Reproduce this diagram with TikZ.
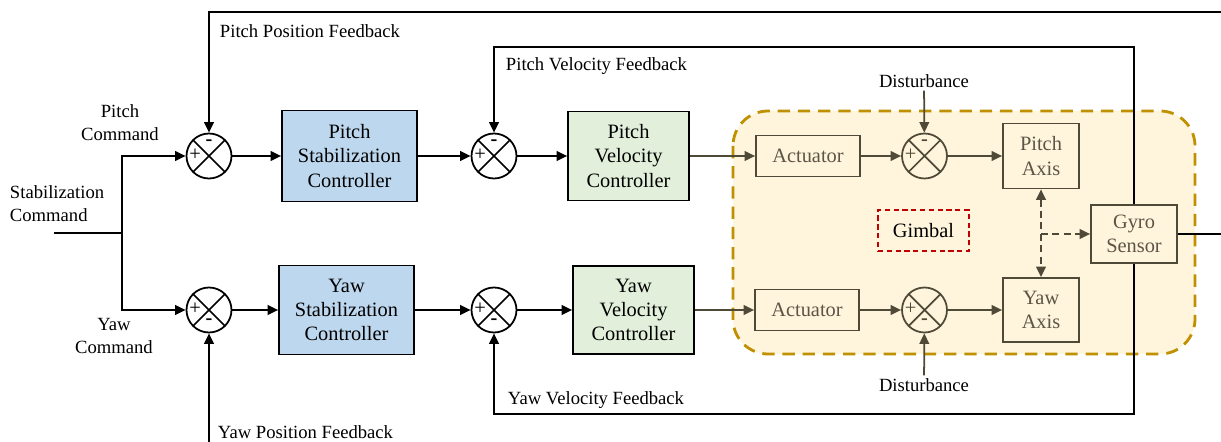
\documentclass[tikz,border=0pt]{standalone}
\usepackage{fontspec}
\setmainfont{Liberation Serif}
\usetikzlibrary{arrows.meta}

\definecolor{ctrlblue}{HTML}{BDD7EE}
\definecolor{ctrlgreen}{HTML}{E2EFDA}
\definecolor{gimbalfill}{HTML}{FFF5DD}
\definecolor{gimbaledge}{HTML}{BF9000}
\definecolor{plant}{HTML}{4F4937}
\definecolor{planttext}{HTML}{5C5546}
\definecolor{gimbalred}{HTML}{C00000}

\newcommand{\blockfont}{\fontsize{11.6pt}{13.8pt}\selectfont}
\newcommand{\labelfont}{\fontsize{10.6pt}{13pt}\selectfont}

\tikzset{
    ctrl/.style={draw, line width=1pt, align=center, font=\blockfont, inner sep=0pt},
    plantbox/.style={draw=plant, fill=gimbalfill, text=planttext, line width=1pt, align=center, font=\blockfont, inner sep=0pt},
    sum/.style={circle, draw=#1, line width=1pt, minimum size=0.9cm, inner sep=0pt,
        path picture={\draw[#1, line width=1pt] (path picture bounding box.north west) -- (path picture bounding box.south east)
            (path picture bounding box.north east) -- (path picture bounding box.south west);}},
    sum/.default=black,
    sign/.style={font=\blockfont, inner sep=0pt},
    lbl/.style={font=\labelfont, inner sep=1.5pt},
    arr/.style={->, line width=1pt},
    plantarr/.style={->, draw=plant, line width=1pt},
    dasharr/.style={draw=plant, line width=1pt, dash pattern=on 4pt off 2.5pt},
    gimbalbox/.style={draw=gimbaledge, fill=gimbalfill, line width=1.6pt, dash pattern=on 7pt off 4.5pt, rounded corners=0.7cm}
}

\begin{document}
\begin{tikzpicture}[x=0.02cm, y=-0.02cm, >={Triangle[length=6pt,width=5.5pt]}]
    \useasboundingbox (0,0) rectangle (1221,442);

    % gimbal area
    \draw[gimbalbox] (733,111) rectangle (1195,354);

    % controllers
    \node[ctrl, fill=ctrlblue, minimum width=2.7cm, minimum height=1.82cm] (psc) at (349.5,156) {Pitch\\Stabilization\\Controller};
    \node[ctrl, fill=ctrlblue, minimum width=2.7cm, minimum height=1.78cm] (ysc) at (346.5,310) {Yaw\\Stabilization\\Controller};
    \node[ctrl, fill=ctrlgreen, minimum width=2.42cm, minimum height=1.78cm] (pvc) at (628.5,156) {Pitch\\Velocity\\Controller};
    \node[ctrl, fill=ctrlgreen, minimum width=2.42cm, minimum height=1.76cm] (yvc) at (633.5,310) {Yaw\\Velocity\\Controller};

    % summing points
    \node[sum] (s1) at (209,156) {};
    \node[sum] (s2) at (209,310) {};
    \node[sum] (s3) at (494,156) {};
    \node[sum] (s4) at (494,310) {};
    \node[sum=plant] (s5) at (924.5,156) {};
    \node[sum=plant] (s6) at (924.5,310) {};
    \foreach \s/\c in {s1/black,s3/black,s5/plant} {
        \node[sign, text=\c] (\s-plus) at ([shift={(-14,-1)}]\s) {+};
        \node[sign, text=\c] (\s-minus) at ([shift={(0,-13)}]\s) {\bfseries -};
    }
    \foreach \s/\c in {s2/black,s4/black,s6/plant} {
        \node[sign, text=\c] (\s-plus) at ([shift={(-14,-1)}]\s) {+};
        \node[sign, text=\c] (\s-minus) at ([shift={(0,12)}]\s) {\bfseries -};
    }

    % gimbal blocks
    \node[plantbox, minimum width=2.08cm, minimum height=0.82cm] (act1) at (808,156) {Actuator};
    \node[plantbox, minimum width=2.08cm, minimum height=0.82cm] (act2) at (807,310) {Actuator};
    \node[plantbox, minimum width=1.52cm, minimum height=1.3cm] (pax) at (1041,156) {Pitch\\Axis};
    \node[plantbox, minimum width=1.52cm, minimum height=1.28cm] (yax) at (1041,310) {Yaw\\Axis};
    \node[plantbox, minimum width=1.72cm, minimum height=1.16cm] (gyro) at (1134,234) {Gyro\\Sensor};
    \node[draw=gimbalred, line width=1pt, dash pattern=on 3pt off 2pt, font=\blockfont, minimum width=1.82cm, minimum height=0.82cm] (gml) at (923.5,230.5) {Gimbal};

    % labels
    \node[lbl, align=left, anchor=west] (scmd) at (7,204) {Stabilization\\Command};
    \node[lbl, align=center] (pcmd) at (120,123) {Pitch\\Command};
    \node[lbl, align=center] (ycmd) at (114,336) {Yaw\\Command};
    \node[lbl, anchor=west] (ppl) at (217,31) {Pitch Position Feedback};
    \node[lbl, anchor=west] (ypl) at (215,432) {Yaw Position Feedback};
    \node[lbl, anchor=west] (pvl) at (503,66) {Pitch Velocity Feedback};
    \node[lbl, anchor=west] (yvl) at (505,400) {Yaw Velocity Feedback};
    \node[lbl] (d1) at (924,81) {Disturbance};
    \node[lbl] (d2) at (924,385) {Disturbance};

    % command split
    \coordinate (cmd) at (54,233);
    \coordinate (split) at (122,233);
    \draw[line width=1pt] (cmd) -- (split);
    \draw[arr] (split) |- (s1);
    \draw[arr] (split) |- (s2);

    % forward path
    \draw[arr] (s1) -- (psc);
    \draw[arr] (s2) -- (ysc);
    \draw[arr] (psc) -- (s3);
    \draw[arr] (ysc) -- (s4);
    \draw[arr] (s3) -- (pvc);
    \draw[arr] (s4) -- (yvc);
    \draw[plantarr] (pvc) -- (act1);
    \draw[plantarr] (yvc) -- (act2);
    \draw[plantarr] (act1) -- (s5);
    \draw[plantarr] (act2) -- (s6);
    \draw[plantarr] (s5) -- (pax);
    \draw[plantarr] (s6) -- (yax);
    \draw[plantarr] (d1) -- (s5);
    \draw[plantarr] (d2) -- (s6);

    % axis coupling
    \coordinate (tap) at (pax.south |- gyro.west);
    \draw[dasharr, <->] (pax) -- (yax);
    \draw[dasharr, ->] (tap) -- (gyro);

    % feedback loops
    \coordinate (pvfb) at (1134,47);
    \coordinate (yvfb) at (1134,414);
    \coordinate (ppfb) at (1221,12);
    \coordinate (ypfb) at (209,442);
    \coordinate (gyout) at (1221,234);
    \draw[arr] (gyro.north) -- (pvfb) -| (s3);
    \draw[arr] (gyro.south) -- (yvfb) -| (s4);
    \draw[arr] (ppfb) -| (s1);
    \draw[arr] (ypfb) -- (s2);
    \draw[line width=1pt] (gyro) -- (gyout);
\end{tikzpicture}
\end{document}
